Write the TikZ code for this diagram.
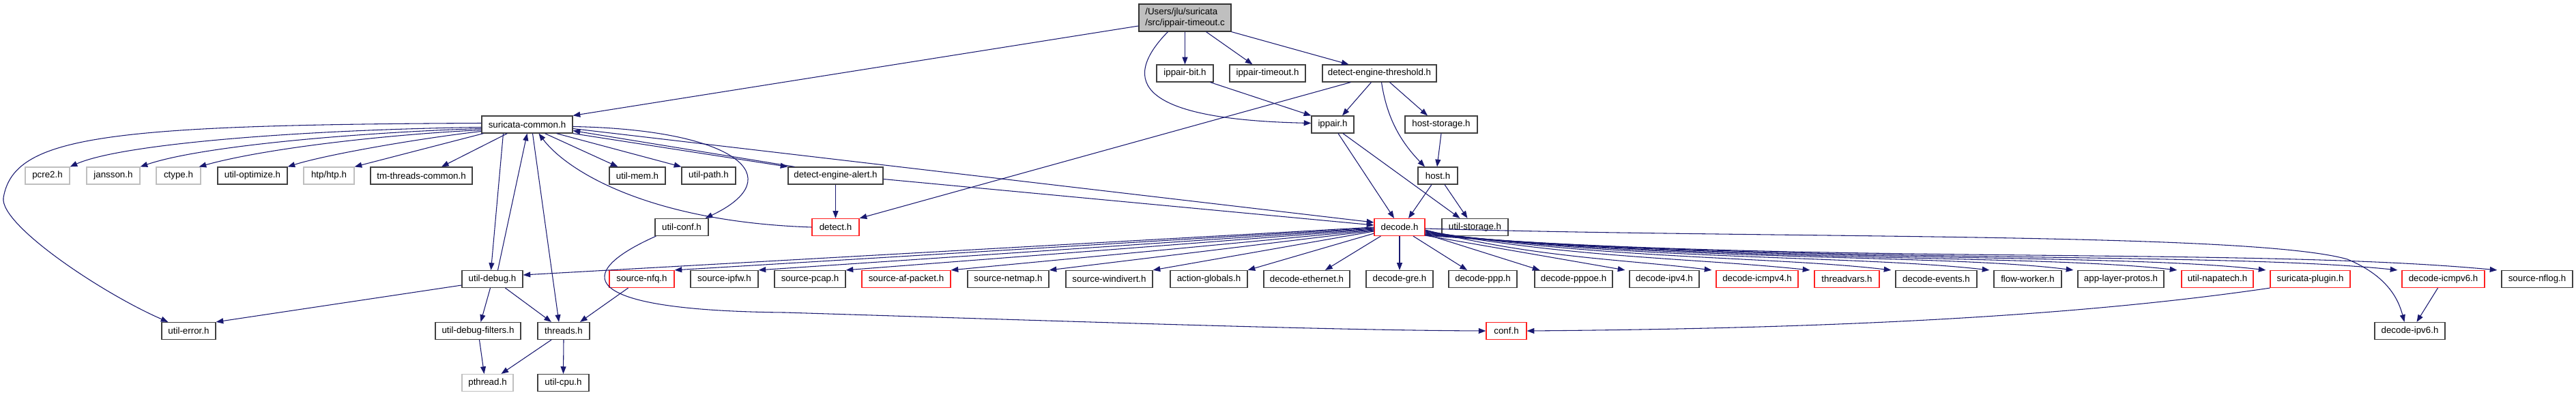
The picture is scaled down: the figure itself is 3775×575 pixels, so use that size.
\documentclass[tikz,border=0pt]{standalone}
\usepackage{fontspec}
\setmainfont{Liberation Sans}
\usetikzlibrary{arrows.meta,calc}
\definecolor{edgeblue}{HTML}{191970}
\definecolor{boxgray}{HTML}{BFBFBF}
\definecolor{boxred}{HTML}{FF2020}
\begin{document}
\begin{tikzpicture}[x=0.75pt,y=-0.75pt,
  nb/.style={draw=black!75, fill=white, line width=0.9pt, inner sep=0pt,
    minimum height=18.75pt, font=\fontsize{10}{12}\selectfont},
  ng/.style={nb, draw=boxgray},
  nr/.style={nb, draw=boxred},
  nmain/.style={nb, fill=boxgray, draw=black!80, minimum height=30pt, align=left},
  wd/.style={minimum width={#1*0.75pt}},
  lnk/.style={draw=edgeblue, line width=0.8pt, -{Triangle[length=8pt,width=6pt]}}]
\useasboundingbox (0,0) rectangle (3775,575);

% ---- nodes ----
\node[nmain, wd=135] (main) at (1736.5,26) {/Users/jlu/suricata\\/src/ippair-timeout.c};

\node[nb, wd=83]  (ibit) at (1736.5,107.5) {ippair-bit.h};
\node[nb, wd=111] (itmo) at (1857.5,107.5) {ippair-timeout.h};
\node[nb, wd=167] (dthr) at (2021.5,107.5) {detect-engine-threshold.h};

\node[nb, wd=133] (sc)     at (772.5,182.5) {suricata-common.h};
\node[nb, wd=62]  (ippair) at (1953,182.5)  {ippair.h};
\node[nb, wd=106] (hstor)  at (2112,182.5)  {host-storage.h};

\node[ng, wd=65]  (pcre)  at (69.5,257.5)   {pcre2.h};
\node[ng, wd=78]  (jans)  at (166,257.5)    {jansson.h};
\node[ng, wd=65]  (ctype) at (261.5,257.5)  {ctype.h};
\node[nb, wd=102] (uopt)  at (370,257.5)    {util-optimize.h};
\node[ng, wd=74]  (htp)   at (482,257.5)    {htp/htp.h};
\node[nb, wd=149] (tmtc)  at (617.5,257.5)  {tm-threads-common.h};
\node[nb, wd=82]  (umem)  at (934,257.5)    {util-mem.h};
\node[nb, wd=79]  (upath) at (1038.5,257.5) {util-path.h};
\node[nb, wd=139] (dea)   at (1224.5,257.5) {detect-engine-alert.h};
\node[nb, wd=58]  (host)  at (2107,257.5)   {host.h};

\node[nb, wd=78] (uconf) at (999,333)    {util-conf.h};
\node[nr, wd=69] (det)   at (1224.5,333) {detect.h};
\node[nr, wd=74] (dec)   at (2051,333)   {decode.h};
\node[nb, wd=97] (ustor) at (2161.5,333) {util-storage.h};

\node[nb, wd=89]  (udbg)   at (721.5,409)  {util-debug.h};
\node[nr, wd=95]  (nfq)    at (940.5,409)  {source-nfq.h};
\node[nb, wd=99]  (ipfw)   at (1061.5,409) {source-ipfw.h};
\node[nb, wd=104] (pcap)   at (1187,409)   {source-pcap.h};
\node[nr, wd=130] (afp)    at (1328,409)   {source-af-packet.h};
\node[nb, wd=119] (netmap) at (1477.5,409) {source-netmap.h};
\node[nb, wd=127] (windiv) at (1625.5,409) {source-windivert.h};
\node[nb, wd=113] (actg)   at (1771.5,409) {action-globals.h};
\node[nb, wd=126] (eth)    at (1915,409)   {decode-ethernet.h};
\node[nb, wd=98]  (gre)    at (2051,409)   {decode-gre.h};
\node[nb, wd=100] (ppp)    at (2173,409)   {decode-ppp.h};
\node[nb, wd=114] (pppoe)  at (2306,409)   {decode-pppoe.h};
\node[nb, wd=102] (ipv4)   at (2439,409)   {decode-ipv4.h};
\node[nr, wd=120] (icmp4)  at (2575,409)   {decode-icmpv4.h};
\node[nr, wd=95]  (tvars)  at (2706.5,409) {threadvars.h};
\node[nb, wd=119] (devt)   at (2837.5,409) {decode-events.h};
\node[nb, wd=99]  (flow)   at (2971.5,409) {flow-worker.h};
\node[nb, wd=126] (alp)    at (3108,409)   {app-layer-protos.h};
\node[nr, wd=105] (napa)   at (3249.5,409) {util-napatech.h};
\node[nr, wd=117] (plug)   at (3385.5,409) {suricata-plugin.h};
\node[nr, wd=121] (icmp6)  at (3580.5,409) {decode-icmpv6.h};
\node[nb, wd=104] (nflog)  at (3718,409)   {source-nflog.h};

\node[nb, wd=79]  (uerr) at (276.5,485)  {util-error.h};
\node[nb, wd=125] (udf)  at (700.5,485)  {util-debug-filters.h};
\node[nb, wd=76]  (thr)  at (826,485)    {threads.h};
\node[nr, wd=59]  (conf) at (2207.5,485) {conf.h};
\node[nb, wd=103] (ipv6) at (3531.5,485) {decode-ipv6.h};

\node[ng, wd=75] (pth)  at (714.5,561) {pthread.h};
\node[nb, wd=75] (ucpu) at (825.5,561) {util-cpu.h};

% ---- edges from main ----
\draw[lnk] ($(main.west)+(0,12)$) -- (sc.north east);
\draw[lnk] ($(main.south west)+(43,0)$) .. controls (1640,120) and (1670,175) .. ($(ippair.west)+(0,-2)$);
\draw[lnk] (main.south) -- (ibit.north);
\draw[lnk] ($(main.south)+(31,0)$) -- ($(itmo.north)+(-22,0)$);
\draw[lnk] (main.south east) -- ($(dthr.north)+(-45,0)$);

\draw[lnk] ($(ibit.south)+(37,0)$) -- (ippair.north west);
\draw[lnk] ($(dthr.south)+(-12,0)$) -- ($(ippair.north)+(14,0)$);
\draw[lnk] ($(dthr.south)+(15,0)$) -- ($(hstor.north)+(-20,0)$);
\draw[lnk] ($(dthr.south)+(3,0)$) .. controls (2032,170) and (2050,205) .. ($(host.north)+(-19,0)$);
\draw[lnk] ($(dthr.south west)+(42,0)$) -- (det.north east);
\draw[lnk] (hstor.south) -- ($(host.north)+(-1,0)$);
\draw[lnk] ($(ippair.south)+(8,0)$) -- ($(dec.north)+(-8,0)$);
\draw[lnk] ($(ippair.south)+(15,0)$) -- ($(ustor.north)+(-22,0)$);
\draw[lnk] ($(host.south)+(-9,0)$) -- ($(dec.north)+(13,0)$);
\draw[lnk] ($(host.south)+(10,0)$) -- ($(ustor.north)+(-11,0)$);

% ---- edges from suricata-common ----
\draw[lnk] ($(sc.west)+(0,4)$) .. controls (450,190) and (180,210) .. (pcre.north east);
\draw[lnk] ($(sc.west)+(0,6)$) .. controls (550,193) and (300,212) .. (jans.north east);
\draw[lnk] ($(sc.west)+(0,8)$) .. controls (570,197) and (390,217) .. ($(ctype.north east)+(-3,0)$);
\draw[lnk] ($(sc.west)+(0,10)$) .. controls (620,202) and (480,226) .. (uopt.north east);
\draw[lnk] ($(sc.south west)+(3,0)$) -- (htp.north east);
\draw[lnk] ($(sc.south west)+(38,0)$) -- ($(tmtc.north)+(29.5,0)$);
\draw[lnk] ($(sc.south)+(26,0)$) -- ($(umem.north west)+(13,0)$);
\draw[lnk] ($(sc.south)+(43,0)$) -- (upath.north west);
\draw[lnk] (sc.south east) -- (dea.north west);
\draw[lnk] ($(dea.north west)+(10,0)$) -- ($(sc.east)+(0,9)$);
\draw[lnk] ($(sc.east)+(0,6)$) -- ($(dec.west)+(0,-7)$);
\draw[lnk] ($(dea.east)+(0,5)$) -- ($(dec.west)+(0,-3)$);
\draw[lnk] ($(sc.west)+(0,-2)$) .. controls (150,183) and (20,200) .. (5,290)
   .. controls (0,330) and (150,430) .. ($(uerr.north west)+(10,0)$);
\draw[lnk] ($(sc.south)+(-35,0)$) -- ($(udbg.north)+(-2,0)$);
\draw[lnk] ($(udbg.north)+(8,0)$) -- (sc.south);
\draw[lnk] ($(sc.south)+(8,0)$) -- ($(thr.north)+(-7,0)$);
\draw[lnk] (det.west) .. controls (950,325) and (830,250) .. ($(sc.south)+(17,0)$);
\draw[lnk] ($(sc.east)+(0,3)$) .. controls (1080,190) and (1160,260) .. ($(uconf.north east)+(-5,0)$);
\draw[lnk] (dea.south) -- (det.north);

% ---- conf.h ----
\draw[lnk] ($(uconf.south west)+(2,0)$) .. controls (840,400) and (840,455) .. (1150,458)
   .. controls (1600,472) and (1950,484) .. (conf.west);
\draw[lnk] (plug.south west) .. controls (3000,470) and (2600,482) .. (conf.east);

% ---- decode.h fan (left) ----
\draw[lnk] ($(dec.west)+(0,0)$) -- ($(udbg.east)+(0,-6)$);
\draw[lnk] ($(dec.west)+(0,1)$) -- (nfq.north east);
\draw[lnk] ($(dec.west)+(0,2)$) -- (ipfw.north east);
\draw[lnk] ($(dec.west)+(0,3)$) -- (pcap.north east);
\draw[lnk] ($(dec.west)+(0,4)$) -- (afp.north east);
\draw[lnk] ($(dec.west)+(0,5)$) -- (netmap.north east);
\draw[lnk] ($(dec.west)+(0,6)$) -- (windiv.north east);
\draw[lnk] ($(dec.south west)+(0,-4)$) -- (actg.north east);
\draw[lnk] ($(dec.south west)+(10,0)$) -- ($(eth.north)+(27,0)$);
\draw[lnk] (dec.south) -- (gre.north);
\draw[lnk] ($(dec.south)+(20,0)$) -- ($(ppp.north)+(-23,0)$);
\draw[lnk] ($(dec.south east)+(0,-3)$) -- ($(pppoe.north west)+(8,0)$);
\draw[lnk] ($(dec.south east)+(0,-1)$) -- ($(ipv4.north west)+(-6,0)$);
% ---- decode.h fan (right) ----
\draw[lnk] ($(dec.east)+(0,4)$) .. controls (2250,378) and (2380,380) .. ($(icmp4.north west)+(-6,0)$);
\draw[lnk] ($(dec.east)+(0,5)$) .. controls (2300,378) and (2480,378) .. ($(tvars.north west)+(-6,0)$);
\draw[lnk] ($(dec.east)+(0,6)$) .. controls (2350,380) and (2600,376) .. ($(devt.north west)+(-6,0)$);
\draw[lnk] ($(dec.east)+(0,7)$) .. controls (2400,382) and (2720,374) .. ($(flow.north west)+(-6,0)$);
\draw[lnk] ($(dec.east)+(0,8)$) .. controls (2450,384) and (2850,372) .. ($(alp.north west)+(-6,0)$);
\draw[lnk] ($(dec.east)+(0,9)$) .. controls (2500,385) and (2980,372) .. ($(napa.north west)+(-6,0)$);
\draw[lnk] ($(dec.east)+(0,10)$) .. controls (2550,386) and (3100,370) .. ($(plug.north west)+(-6,0)$);
\draw[lnk] ($(dec.east)+(0,11)$) .. controls (2600,387) and (3250,368) .. ($(icmp6.north west)+(-6,0)$);
\draw[lnk] ($(dec.east)+(0,12)$) .. controls (2650,388) and (3300,362) .. ($(nflog.north west)+(-6,0)$);
\draw[lnk] ($(dec.east)+(0,2)$) .. controls (2600,350) and (3300,340) .. (3440,380)
   .. controls (3500,405) and (3515,440) .. ($(ipv6.north)+(-8,0)$);
\draw[lnk] ($(icmp6.south)+(-8,0)$) -- ($(ipv6.north)+(10,0)$);

% ---- lower part ----
\draw[lnk] ($(nfq.south)+(-20,0)$) -- ($(thr.north)+(24,0)$);
\draw[lnk] ($(udbg.west)+(0,9)$) -- (uerr.north east);
\draw[lnk] ($(udbg.south)+(-3,0)$) -- ($(udf.north)+(4,0)$);
\draw[lnk] ($(udbg.south)+(19,0)$) -- ($(thr.north)+(-18,0)$);
\draw[lnk] ($(udf.south)+(2,0)$) -- ($(pth.north)+(-5,0)$);
\draw[lnk] ($(thr.south)+(-18,0)$) -- ($(pth.north)+(20,0)$);
\draw[lnk] (thr.south) -- (ucpu.north);
\end{tikzpicture}
\end{document}
